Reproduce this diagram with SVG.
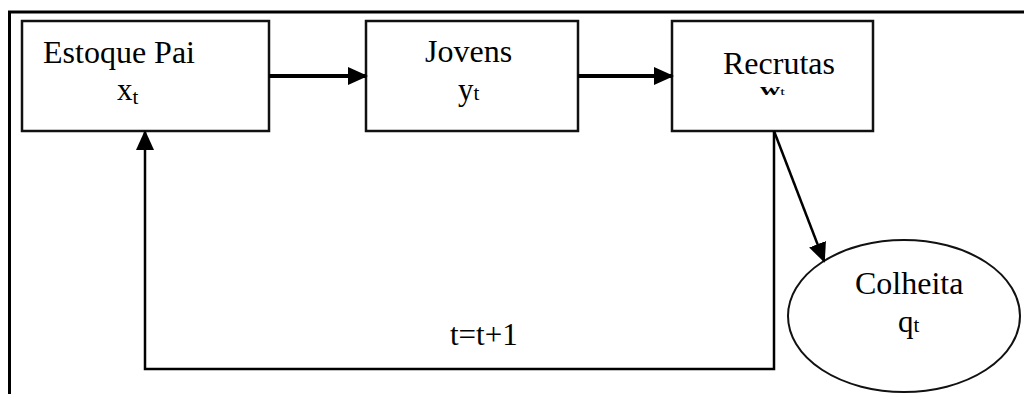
<svg xmlns="http://www.w3.org/2000/svg" width="1024" height="394" viewBox="0 0 1024 394">
<style>
.box{fill:#fff;stroke:#111;stroke-width:2.5}
.t{font-family:"Liberation Serif","Times New Roman",serif;fill:#000}
.ln{fill:none;stroke:#000}
</style>
<defs>
<marker id="ahb" markerWidth="20" markerHeight="20" refX="18" refY="10" orient="auto" markerUnits="userSpaceOnUse" viewBox="0 0 20 20">
<path d="M0,1 L20,10 L0,19 Z" fill="#000"/>
</marker>
</defs>
<rect width="1024" height="394" fill="#fff"/>
<g id="frame">
<path class="ln" d="M9.5,394 V12 H1024" stroke-width="3"/>
</g>
<g id="estoque">
<rect class="box" x="22" y="21" width="247" height="110"/>
<text class="t" x="43" y="63" font-size="32">Estoque Pai</text>
<text class="t" x="117" y="100" font-size="31">x<tspan font-size="21" dy="4">t</tspan></text>
</g>
<g id="jovens">
<rect class="box" x="366" y="21" width="212" height="110"/>
<text class="t" x="425" y="62" font-size="32">Jovens</text>
<text class="t" x="458" y="100" font-size="31">y<tspan font-size="21">t</tspan></text>
</g>
<g id="recrutas">
<rect class="box" x="672" y="21" width="201" height="110"/>
<text class="t" x="723" y="74" font-size="32">Recrutas</text>
<text class="t" font-size="20" font-weight="bold" transform="translate(760,95) scale(1.4,0.85)">w<tspan font-size="12" font-weight="normal">t</tspan></text>
</g>
<g id="colheita">
<ellipse cx="904" cy="316" rx="116" ry="76" fill="#fff" stroke="#111" stroke-width="2"/>
<text class="t" x="855" y="294" font-size="32">Colheita</text>
<text class="t" x="898" y="332" font-size="31">q<tspan font-size="21">t</tspan></text>
</g>
<g id="connectors">
<line class="ln" x1="269" y1="76" x2="366" y2="76" stroke-width="4" marker-end="url(#ahb)"/>
<line class="ln" x1="578" y1="76" x2="672" y2="76" stroke-width="4" marker-end="url(#ahb)"/>
<path class="ln" d="M774,131 V369 H145 V132" stroke-width="2.5" marker-end="url(#ahb)"/>
<line class="ln" x1="774" y1="131" x2="824" y2="261" stroke-width="2.5" marker-end="url(#ahb)"/>
<text class="t" x="450" y="345" font-size="31">t=t+1</text>
</g>
</svg>
